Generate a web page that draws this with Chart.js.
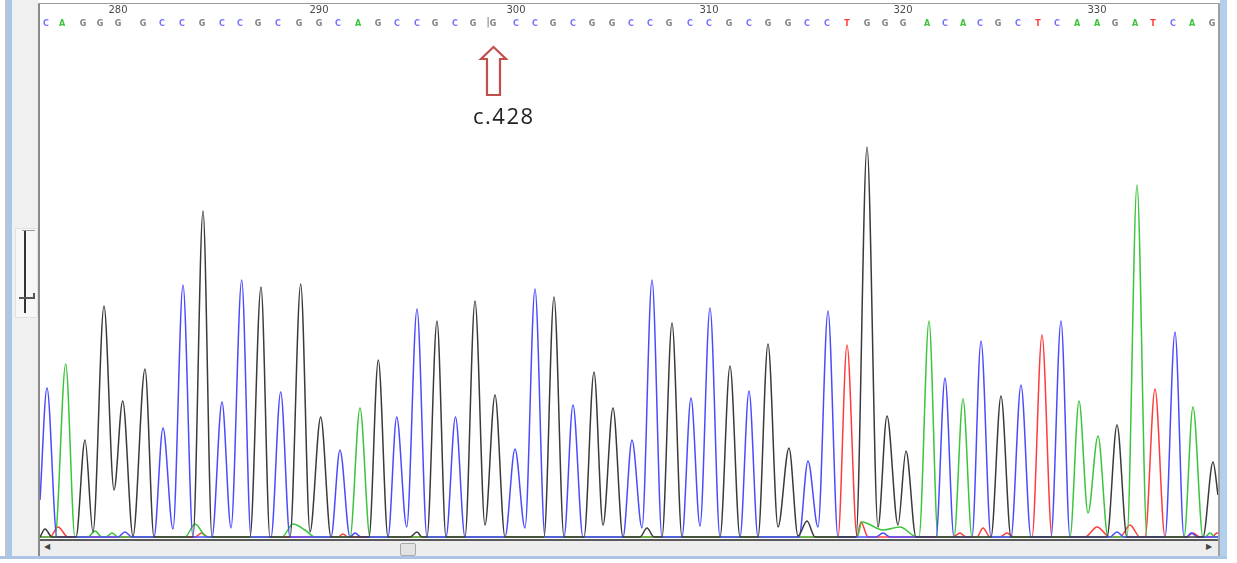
<!DOCTYPE html>
<html>
<head>
<meta charset="utf-8">
<script src="https://cdn.jsdelivr.net/npm/chart.js@4.4.1/dist/chart.umd.min.js"></script>
<style>
  body { margin: 0; width: 1237px; height: 563px; background: #fff; overflow: hidden; position: relative; font-family: "DejaVu Sans", sans-serif; }
  .abs { position: absolute; }
  #chart { position: absolute; left: 40px; top: 5px; }
  #note { position: absolute; left: 473px; top: 100px; font: 22px "Open Sans", sans-serif; letter-spacing: 1.5px; color: #222; }
</style>
</head>
<body>
<!-- window frame -->
<div class="abs" style="left:5px;top:0;width:2px;height:558px;background:#c4c4c4"></div>
<div class="abs" style="left:7px;top:0;width:5px;height:558px;background:#a9c7ea"></div>
<div class="abs" style="left:12px;top:0;width:26px;height:558px;background:#f0f0f0"></div>
<div class="abs" style="left:38px;top:3px;width:2px;height:555px;background:#8a8a8a"></div>
<div class="abs" style="left:38px;top:3px;width:1181px;height:1px;background:#9a9a9a"></div>
<div class="abs" style="left:1218px;top:3px;width:2px;height:555px;background:#a0a0a0"></div>
<div class="abs" style="left:1220px;top:0;width:7px;height:558px;background:#b3cfee"></div>
<div class="abs" style="left:40px;top:539px;width:1178px;height:2px;background:#5a5a5a"></div>
<div class="abs" style="left:40px;top:541px;width:1178px;height:15px;background:#ededed"></div>
<div class="abs" style="left:0;top:556px;width:1227px;height:3px;background:#a9c4e4"></div>
<div class="abs" style="left:44px;top:542px;font-size:8px;color:#444">&#9664;</div>
<div class="abs" style="left:1206px;top:542px;font-size:8px;color:#444">&#9654;</div>
<div class="abs" style="left:400px;top:543px;width:14px;height:11px;background:#e2e2e2;border:1px solid #a8a8a8;border-radius:2px"></div>
<!-- zoom slider -->
<div class="abs" style="left:15px;top:228px;width:21px;height:88px;background:#f7f7f7;border:1px solid #e2e2e2"></div>
<div class="abs" style="left:22px;top:230px;width:13px;height:1px;background:#999"></div>
<div class="abs" style="left:24px;top:231px;width:2px;height:82px;background:#333"></div>
<div class="abs" style="left:19px;top:297px;width:16px;height:2px;background:#555"></div>
<div class="abs" style="left:33px;top:293px;width:2px;height:5px;background:#555"></div>

<canvas id="chart" width="1178" height="534"></canvas>

<svg class="abs" style="left:476px;top:44px" width="36" height="56">
  <path d="M17.5 3 L30 15 L24 15 L24 51 L11 51 L11 15 L5 15 Z" fill="#fff" stroke="#c0504d" stroke-width="2.2" stroke-linejoin="miter"/>
</svg>
<div id="note">c.428</div>

<script>
// base calls: first base number and scan position of each call
const firstBase = 276;
const baseSeq = "CAGGGGCCGCCGCGGCAGCCGCGGCCGCGGCCGCCGCGGCCTGGGACACGCTCAAGATCAG".split("");
const basePos = [6, 22, 43, 60, 78, 103, 122, 142, 162, 182, 200, 218, 238, 259, 279,
  298, 318, 338, 357, 377, 395, 415, 433, 453, 476, 495, 513, 533, 552, 572,
  591, 610, 629, 650, 669, 689, 709, 728, 748, 767, 787, 807, 827, 845, 863,
  887, 905, 923, 940, 958, 978, 998, 1017, 1037, 1057, 1075, 1095, 1113, 1133, 1152, 1172];
const numberTicks = [280, 290, 300, 310, 320, 330];
const cursorPos = 448;

// trace points [scan, signal] read at apexes, valleys and baseline feet
const traceG = [[0, 0], [5, 8], [12, 0],
  [36, 0], [45, 97], [53, 5], [64, 231], [74, 47], [82.7, 136], [93, 1], [105, 168], [114, 0],
  [153, 0], [163, 326], [172, 0],
  [210, 0], [221, 250], [230, 0],
  [250, 0], [260.7, 253], [270, 5], [280.7, 120], [291, 0],
  [329, 0], [338.3, 177], [348, 0],
  [370, 0], [377, 5], [382, 0],
  [387, 0], [397, 216], [406, 0],
  [425, 0], [435, 236], [445, 12], [455, 142], [465, 0],
  [504, 0], [514, 240], [524, 0],
  [544, 0], [554, 165], [563, 12], [573, 129], [583, 0],
  [600, 0], [607, 9], [614, 0],
  [622, 0], [632, 214], [642, 0],
  [680, 0], [690, 171], [700, 0],
  [718, 0], [728, 193], [738, 10], [749, 89], [758, 1],
  [767, 16], [775, 0],
  [816, 0], [827, 390], [838, 10], [847, 121], [858, 12], [866, 86], [876, 0],
  [951, 0], [961, 141], [971, 0],
  [1067, 0], [1077, 112], [1087, 0],
  [1163, 0], [1173, 75], [1178, 42]];

const traceC = [[0, 37], [7, 149], [17, 0],
  [78, 0], [85, 5], [92, 0],
  [114, 0], [123, 109], [133, 8], [143, 252], [153, 0],
  [172, 0], [182, 135], [191, 9], [201.7, 257], [211, 0],
  [231, 0], [240.7, 145], [250, 0],
  [291, 0], [300, 87], [310, 0], [315, 4], [321, 0],
  [348, 0], [356.7, 120], [366.7, 10], [377, 228], [387, 0],
  [406, 0], [415.5, 120], [425, 0],
  [465, 0], [475, 88], [485, 9], [495, 248], [505, 0],
  [524, 0], [533, 132], [543, 0],
  [583, 0], [592, 97], [602, 9], [612, 257], [622, 0],
  [642, 0], [651, 139], [660, 11], [670, 229], [680, 0],
  [700, 0], [709, 146], [718, 0],
  [759, 0], [768, 76], [778, 10], [788, 226], [798, 0],
  [836, 0], [843, 4], [850, 0],
  [896, 0], [905, 159], [914, 0],
  [932, 0], [941, 196], [951, 0],
  [971, 0], [981, 152], [991, 0],
  [1011, 0], [1021, 216], [1030, 0],
  [1070, 0], [1077, 5], [1084, 0],
  [1125, 0], [1135, 205], [1144, 0],
  [1147, 0], [1151, 4], [1158, 0], [1178, 0]];

const traceA = [[0, 0], [15, 0], [25.7, 173], [35, 0],
  [48, 0], [55, 6], [62, 0], [66, 0], [72, 4], [78, 0],
  [145, 0], [155, 13], [167, 0],
  [242, 0], [253, 13], [265, 7], [275, 0],
  [310, 0], [320, 129], [330, 0],
  [817, 0], [822, 15], [843, 7], [860, 10], [877, 0],
  [879, 0], [889, 216], [898, 0],
  [914, 0], [923, 138], [932, 0],
  [1030, 0], [1039, 136], [1048, 24], [1058, 101], [1068, 0],
  [1087, 0], [1097, 352], [1107, 0],
  [1144, 0], [1153, 130], [1163, 0],
  [1165, 0], [1170, 4], [1175, 0], [1178, 0]];

const traceT = [[0, 0], [10, 0], [18, 10], [28, 0],
  [155, 0], [161.7, 4], [168, 0],
  [298, 0], [303, 3], [308, 0],
  [798, 0], [807, 192], [817, 1], [821, 15], [828, 0],
  [913, 0], [920, 4], [926, 0], [937, 0], [943, 9], [950, 0], [960, 0], [967, 4], [974, 0],
  [992, 0], [1002, 202], [1012, 0],
  [1045, 0], [1057, 10], [1070, 0], [1080, 0], [1090, 12], [1100, 0],
  [1105, 0], [1115, 148], [1125, 0],
  [1146, 0], [1153, 4], [1160, 0], [1172, 0], [1177, 4], [1178, 4]];

const baseColors = { A: "#3fc23f", C: "#7272ff", G: "#857d78", T: "#ff3a3a", "|": "#777" };

const letterLabels = new Map(basePos.map((p, i) => [p, baseSeq[i]]));
letterLabels.set(cursorPos, "|");
const numLabels = new Map(numberTicks.map((n) => [basePos[n - firstBase], String(n)]));

function tickLabel(ctx) {
  return ctx && ctx.tick ? ctx.tick.label : "";
}

function traceDataset(trace, color) {
  return {
    data: trace.map(([x, y]) => ({ x, y })),
    borderColor: color,
    borderWidth: 1.5,
    pointRadius: 0,
    fill: false,
    cubicInterpolationMode: "monotone",
  };
}

// first dataset ends up on top, so the black trace hides the flat baseline of the others
new Chart(document.getElementById("chart"), {
  type: "line",
  data: {
    datasets: [
      traceDataset(traceG, "#3a3a3a"),
      traceDataset(traceC, "#4a4aff"),
      traceDataset(traceA, "#3cc43c"),
      traceDataset(traceT, "#ff3b3b"),
    ],
  },
  options: {
    responsive: false,
    animation: false,
    devicePixelRatio: 1,
    layout: { padding: 0 },
    plugins: { legend: { display: false }, tooltip: { enabled: false } },
    scales: {
      num: {
        type: "linear",
        position: "top",
        weight: 2,
        min: 0,
        max: 1178,
        bounds: "data",
        grid: { display: false, drawTicks: false },
        border: { display: false },
        afterBuildTicks: (axis) => { axis.ticks = [...numLabels.keys()].map((v) => ({ value: v })); },
        afterFit: (axis) => { axis.height = 11; },
        ticks: {
          autoSkip: false,
          maxRotation: 0,
          padding: 0,
          color: "#4a4a4a",
          font: { family: "DejaVu Sans", size: 10 },
          callback: (value) => numLabels.get(value) || "",
        },
      },
      x: {
        type: "linear",
        position: "top",
        weight: 1,
        min: 0,
        max: 1178,
        bounds: "data",
        grid: { display: false, drawTicks: false },
        border: { display: false },
        afterBuildTicks: (axis) => { axis.ticks = [...letterLabels.keys()].map((v) => ({ value: v })); },
        afterFit: (axis) => { axis.height = 13; },
        ticks: {
          autoSkip: false,
          maxRotation: 0,
          padding: 0,
          color: (ctx) => baseColors[tickLabel(ctx)] || "#777",
          font: (ctx) => tickLabel(ctx) === "|"
            ? { family: "DejaVu Sans", size: 11 }
            : { family: "DejaVu Sans", size: 8, weight: "bold" },
          callback: (value) => letterLabels.get(value) || "",
        },
      },
      y: {
        display: false,
        min: -2,
        max: 508,
      },
    },
  },
});
</script>
</body>
</html>
